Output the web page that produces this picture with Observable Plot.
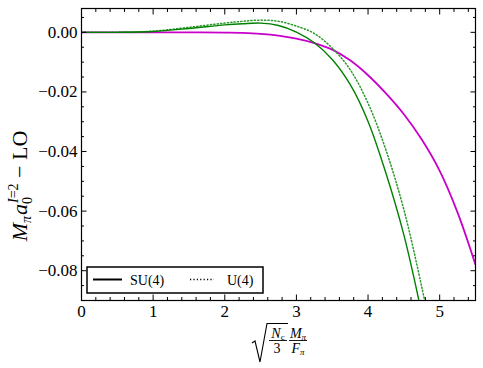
<!DOCTYPE html>
<html><head><meta charset="utf-8">
<script src="https://cdn.jsdelivr.net/npm/d3@7"></script>
<script src="https://cdn.jsdelivr.net/npm/@observablehq/plot@0.6"></script>
<style>
body{margin:0;background:#fff}
#chart{position:relative;width:483px;height:368px}
#chart svg, #chart svg text, #chart svg tspan { font-family: "Liberation Serif", "Times New Roman", "DejaVu Serif", serif !important; }
</style>
</head><body><div id="chart"></div>
<script>
// Magenta curve (SU(4) and U(4) coincide)
const magentaX = [0, 1, 1.5, 2, 2.25, 2.5, 2.75, 3, 3.25, 3.5, 3.75, 4, 4.25, 4.5, 4.75, 5, 5.25, 5.5];
const magentaY = [0, 0, 0, -0.0001, -0.0002, -0.0005, -0.0011, -0.0021, -0.0036, -0.0058, -0.0094, -0.0144, -0.0205, -0.0275, -0.036, -0.0465, -0.0605, -0.078];
// Green solid: SU(4)
const greenSUX = [0, 0.5, 1, 1.5, 2, 2.25, 2.5, 2.75, 3, 3.25, 3.5, 3.75, 4, 4.25, 4.5, 4.75];
const greenSUY = [0, 0, 0.0003, 0.0013, 0.0025, 0.0029, 0.0031, 0.0023, 0.0001, -0.0035, -0.0091, -0.0175, -0.0299, -0.0473, -0.068, -0.0945];
// Green dotted: U(4)
const greenUX = [0, 0.5, 1, 1.5, 2, 2.25, 2.5, 2.75, 3, 3.25, 3.5, 3.75, 4, 4.25, 4.5, 4.75, 4.9];
const greenUY = [0, 0.00003, 0.0004, 0.0017, 0.0031, 0.0037, 0.0041, 0.0037, 0.0021, -0.0004, -0.0053, -0.0125, -0.0238, -0.0395, -0.0595, -0.0855, -0.103];

const xTicks = [0, 1, 2, 3, 4, 5];
const xTickLabels = ["0", "1", "2", "3", "4", "5"];
const yTicks = [0, -0.02, -0.04, -0.06, -0.08];
const yTickLabels = ["0.00", "\u22120.02", "\u22120.04", "\u22120.06", "\u22120.08"];
const legendLabels = ["SU(4)", "U(4)"];

const xMinor = d3.range(0, 5.51, 0.2).map(v => +v.toFixed(2)).filter(v => Math.abs(v - Math.round(v)) > 1e-6);
const yMinor = d3.range(-0.09, 0.0081, 0.005).map(v => +v.toFixed(3)).filter(v => Math.abs(v / 0.02 - Math.round(v / 0.02)) > 1e-6);

const toRows = (xs, ys) => xs.map((x, i) => ({x, y: ys[i]}));
const magenta = toRows(magentaX, magentaY);
const greenSU = toRows(greenSUX, greenSUY);
const greenU = toRows(greenUX, greenUY);

const font = "Liberation Serif";

const plot = Plot.plot({
  width: 483, height: 368,
  marginLeft: 81, marginRight: 8, marginTop: 8, marginBottom: 68,
  style: {fontFamily: font, fontSize: "17px", color: "black", background: "white"},
  x: {domain: [0, 5.5], label: null},
  y: {domain: [-0.09, 0.008], label: null},
  marks: [
    Plot.line(magenta, {x: "x", y: "y", stroke: "#c800c8", strokeWidth: 1.8, curve: "catmull-rom", clip: true}),
    Plot.line(greenU, {x: "x", y: "y", stroke: "#2a9a2a", strokeWidth: 1.5, strokeDasharray: "1.2,2.2", curve: "catmull-rom", clip: true}),
    Plot.line(greenSU, {x: "x", y: "y", stroke: "#008000", strokeWidth: 1.4, curve: "catmull-rom", clip: true}),
    Plot.axisX(xTicks, {anchor: "bottom", tickSize: -5.5, tickPadding: 10, label: null, tickFormat: d => xTickLabels[xTicks.indexOf(d)], fontSize: 17}),
    Plot.axisX(xTicks, {anchor: "top", tickSize: -5.5, label: null, tickFormat: () => "", fill: "none"}),
    Plot.axisX(xMinor, {anchor: "bottom", tickSize: -3, label: null, tickFormat: () => "", fill: "none"}),
    Plot.axisX(xMinor, {anchor: "top", tickSize: -3, label: null, tickFormat: () => "", fill: "none"}),
    Plot.axisY(yTicks, {anchor: "left", tickSize: -5.5, tickPadding: 9.5, label: null, tickFormat: d => yTickLabels[yTicks.indexOf(d)], fontSize: 17}),
    Plot.axisY(yTicks, {anchor: "right", tickSize: -5.5, label: null, tickFormat: () => "", fill: "none"}),
    Plot.axisY(yMinor, {anchor: "left", tickSize: -3, label: null, tickFormat: () => "", fill: "none"}),
    Plot.axisY(yMinor, {anchor: "right", tickSize: -3, label: null, tickFormat: () => "", fill: "none"}),
    Plot.frame({stroke: "black", strokeWidth: 1.2})
  ]
});
document.getElementById("chart").appendChild(plot);

const svg = d3.select(plot);

// Legend
const lg = svg.append("g").attr("font-family", font).attr("font-size", 14).attr("text-anchor", "start");
lg.append("rect").attr("x", 87).attr("y", 267).attr("width", 176).attr("height", 26)
  .attr("fill", "white").attr("stroke", "black").attr("stroke-width", 1.5);
lg.append("line").attr("x1", 93).attr("x2", 122).attr("y1", 279.5).attr("y2", 279.5).attr("stroke", "black").attr("stroke-width", 2);
lg.append("text").attr("x", 130).attr("y", 284.5).text(legendLabels[0]);
lg.append("line").attr("x1", 190).attr("x2", 214).attr("y1", 279.5).attr("y2", 279.5).attr("stroke", "black").attr("stroke-width", 1.6).attr("stroke-dasharray", "1.2,2.2");
lg.append("text").attr("x", 227).attr("y", 284.5).text(legendLabels[1]);

// Y label: M_pi a_0^{I=2} - LO
const yl = svg.append("text").attr("transform", "translate(27,186) rotate(-90)")
  .attr("text-anchor", "middle").attr("font-family", font).attr("font-size", 22);
yl.append("tspan").attr("font-style", "italic").text("M");
yl.append("tspan").attr("font-style", "italic").attr("font-size", 14).attr("dy", 4).text("\u03c0");
yl.append("tspan").attr("font-style", "italic").attr("dy", -4).attr("dx", 1).text("a");
yl.append("tspan").attr("font-size", 14).attr("dy", 5).text("0");
yl.append("tspan").attr("font-size", 14).attr("font-style", "italic").attr("dx", -6).attr("dy", -14).text("I");
yl.append("tspan").attr("font-size", 14).text("=2");
yl.append("tspan").attr("dy", 9).text(" \u2212 LO");

// X label: sqrt(N_c/3) M_pi/F_pi
const xl = svg.append("g").attr("font-family", font).attr("font-size", 14).attr("text-anchor", "middle");
xl.append("path").attr("d", "M252,343 L255,341 L260,362 L267,323.5 L288,323.5").attr("fill", "none").attr("stroke", "black").attr("stroke-width", 1.1);
const t1 = xl.append("text").attr("x", 278).attr("y", 338);
t1.append("tspan").attr("font-style", "italic").text("N");
t1.append("tspan").attr("font-size", 9).attr("dy", 2).text("c");
xl.append("line").attr("x1", 269).attr("x2", 287).attr("y1", 340.5).attr("y2", 340.5).attr("stroke", "black").attr("stroke-width", 0.9);
xl.append("text").attr("x", 277).attr("y", 352.5).text("3");
const t2 = xl.append("text").attr("x", 298).attr("y", 338);
t2.append("tspan").attr("font-style", "italic").text("M");
t2.append("tspan").attr("font-size", 9).attr("font-style", "italic").attr("dy", 2).text("\u03c0");
xl.append("line").attr("x1", 289).attr("x2", 307).attr("y1", 340.5).attr("y2", 340.5).attr("stroke", "black").attr("stroke-width", 0.9);
const t3 = xl.append("text").attr("x", 298).attr("y", 353);
t3.append("tspan").attr("font-style", "italic").text("F");
t3.append("tspan").attr("font-size", 9).attr("font-style", "italic").attr("dy", 2).text("\u03c0");
</script>
</body></html>
